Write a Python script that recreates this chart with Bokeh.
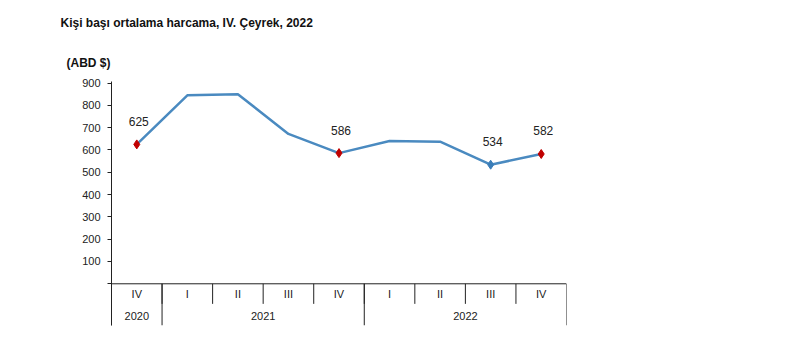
from bokeh.plotting import figure
from bokeh.models import Range1d, FixedTicker, Title
from bokeh.embed import file_html
from bokeh.resources import INLINE
from bokeh.core.properties import value
import numpy as np

# ---- data ----
quarters = ["IV", "I", "II", "III", "IV", "I", "II", "III", "IV"]
years = ["2020", "2021", "2022"]
year_quarter_counts = [1, 4, 4]
spending = [625, 845, 850, 672, 586, 640, 637, 534, 582]
labelled_points = [0, 4, 7, 8]
labelled_colors = ["#C00000", "#C00000", "#3A7DB8", "#C00000"]
y_ticks = [0, 100, 200, 300, 400, 500, 600, 700, 800, 900]

FONT = "Liberation Sans"
LINE_COLOR = "#4A8AC0"

n = len(quarters)
xs = np.arange(n) + 0.5

p = figure(width=790, height=353, output_backend="svg", toolbar_location=None,
           x_range=Range1d(0, n), y_range=Range1d(-187, 907),
           min_border_left=111, min_border_right=224, min_border_top=81,
           min_border_bottom=28)
p.outline_line_color = None
p.xgrid.visible = False
p.ygrid.visible = False
p.xaxis.visible = False
p.background_fill_color = "white"
p.border_fill_color = "white"

yax = p.yaxis[0]
yax.ticker = FixedTicker(ticks=y_ticks)
yax.major_label_overrides = {0: ""}
yax.minor_tick_line_color = None
yax.major_tick_in = 0
yax.major_tick_out = 4
yax.major_label_standoff = 7
yax.axis_line_color = "#222222"
yax.major_tick_line_color = "#222222"
yax.major_label_text_font = FONT
yax.major_label_text_font_size = "11px"
yax.major_label_text_color = "#222222"

# category table below the plot
p.segment(x0=[0], y0=[0], x1=[n], y1=[0], line_color="#222222", line_width=1)
q_bounds = list(range(1, n))
p.segment(x0=q_bounds, y0=[0] * len(q_bounds), x1=q_bounds, y1=[-90] * len(q_bounds),
          line_color="#222222", line_width=1)
y_bounds = list(np.cumsum([0] + year_quarter_counts))
p.segment(x0=y_bounds, y0=[0] * len(y_bounds), x1=y_bounds, y1=[-187] * len(y_bounds),
          line_color="#222222", line_width=1)
p.text(x=xs, y=[-48] * n, text=quarters, text_font=value(FONT), text_font_size="11px",
       text_color="#222222", text_align="center", text_baseline="middle")
year_centers = [(y_bounds[i] + y_bounds[i + 1]) / 2 for i in range(len(years))]
p.text(x=year_centers, y=[-146] * len(years), text=years, text_font=value(FONT),
       text_font_size="11px", text_color="#222222", text_align="center",
       text_baseline="middle")

# line
p.line(xs, spending, line_color=LINE_COLOR, line_width=2.5)
lx = [xs[i] for i in labelled_points]
ly = [spending[i] for i in labelled_points]
p.scatter(lx, ly, marker="diamond", size=9, fill_color=labelled_colors,
          line_color=labelled_colors)
p.text(x=lx, y=ly, text=[str(v) for v in ly], text_font=value(FONT),
       text_font_size="12px", text_color="#222222", text_align="center",
       text_baseline="middle", y_offset=-23, x_offset=2)

p.add_layout(Title(text="(ABD $)", text_font=FONT, text_font_size="12px",
                   text_font_style="bold", align="left", offset=-45, standoff=24,
                   text_color="#111111"), "above")
p.add_layout(Title(text="Kişi başı ortalama harcama, IV. Çeyrek, 2022", text_font=FONT,
                   text_font_size="12px", text_font_style="bold", align="left",
                   offset=-51, standoff=24, text_color="#111111"), "above")

open("out.html", "w").write(file_html(p, INLINE))
